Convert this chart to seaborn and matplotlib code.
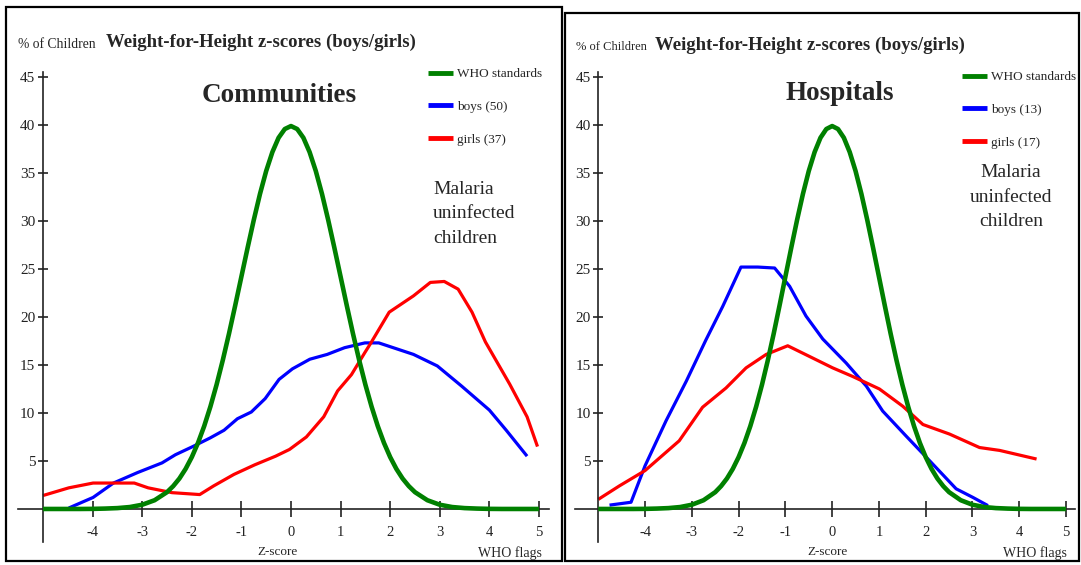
import numpy as np
import pandas as pd
import seaborn as sns
import matplotlib.pyplot as plt
from matplotlib.patches import Rectangle

# ============================================================
# DATA
# ============================================================
# WHO reference curve, % of children per z-score
who_z = [-5, -4.75, -4.5, -4.25, -4, -3.75, -3.5, -3.25, -3, -2.75,
         -2.5, -2.375, -2.25, -2.125, -2, -1.875, -1.75, -1.625, -1.5, -1.375,
         -1.25, -1.125, -1, -0.875, -0.75, -0.625, -0.5, -0.375, -0.25, -0.125,
         0, 0.125, 0.25, 0.375, 0.5, 0.625, 0.75, 0.875, 1, 1.125,
         1.25, 1.375, 1.5, 1.625, 1.75, 1.875, 2, 2.125, 2.25, 2.375,
         2.5, 2.75, 3, 3.25, 3.5, 3.75, 4, 4.25, 4.5, 4.75, 5]
who_pct = [0.0, 0.0, 0.0, 0.0, 0.01, 0.04, 0.09, 0.2, 0.44, 0.91,
           1.75, 2.38, 3.17, 4.17, 5.4, 6.88, 8.63, 10.66, 12.95, 15.5,
           18.26, 21.19, 24.2, 27.2, 30.11, 32.82, 35.21, 37.18, 38.67, 39.58,
           39.89, 39.58, 38.67, 37.18, 35.21, 32.82, 30.11, 27.2, 24.2, 21.19,
           18.26, 15.5, 12.95, 10.66, 8.63, 6.88, 5.4, 4.17, 3.17, 2.38,
           1.75, 0.91, 0.44, 0.2, 0.09, 0.04, 0.01, 0.0, 0.0, 0.0, 0.0]

# Communities
comm_boys_z = [-4.48, -3.99, -3.58, -3.09, -2.6, -2.33, -1.98, -1.63, -1.35, -1.08,
               -0.8, -0.52, -0.24, 0.03, 0.38, 0.73, 1.08, 1.49, 1.77, 2.47, 2.95,
               3.44, 4.0, 4.34, 4.76]
comm_boys_pct = [0.1, 1.2, 2.7, 3.8, 4.8, 5.65, 6.5, 7.4, 8.2, 9.4, 10.1, 11.5,
                 13.5, 14.6, 15.6, 16.1, 16.8, 17.3, 17.3, 16.1, 14.9, 12.8, 10.3,
                 8.2, 5.5]
comm_girls_z = [-5.0, -4.48, -3.99, -3.58, -3.16, -2.88, -2.4, -1.84, -1.56, -1.15,
                -0.73, -0.31, -0.03, 0.31, 0.66, 0.94, 1.22, 1.49, 1.6, 1.98, 2.47,
                2.81, 3.09, 3.37, 3.65, 3.92, 4.41, 4.76, 4.97]
comm_girls_pct = [1.4, 2.2, 2.7, 2.7, 2.7, 2.2, 1.7, 1.5, 2.4, 3.6, 4.6, 5.5, 6.2,
                  7.5, 9.6, 12.3, 14.0, 16.3, 17.2, 20.5, 22.2, 23.6, 23.7, 22.9,
                  20.5, 17.4, 13.0, 9.6, 6.5]

# Hospitals
hosp_boys_z = [-4.76, -4.3, -4.0, -3.55, -3.12, -2.7, -2.34, -1.95, -1.59, -1.23,
               -0.91, -0.56, -0.2, 0.3, 0.73, 1.08, 1.58, 2.01, 2.65, 3.01, 3.33]
hosp_boys_pct = [0.4, 0.7, 4.5, 9.2, 13.3, 17.6, 21.1, 25.2, 25.2, 25.1, 23.2,
                 20.1, 17.7, 15.2, 12.8, 10.2, 7.6, 5.4, 2.1, 1.2, 0.35]
hosp_girls_z = [-5.0, -4.55, -4.0, -3.27, -2.77, -2.27, -1.84, -1.41, -0.95, -0.49,
                0.01, 0.44, 1.01, 1.51, 1.94, 2.51, 3.15, 3.58, 4.37]
hosp_girls_pct = [1.0, 2.4, 4.0, 7.1, 10.6, 12.6, 14.7, 16.1, 17.0, 15.9, 14.7,
                  13.8, 12.5, 10.7, 8.8, 7.8, 6.4, 6.1, 5.2]

x_ticks = [-4, -3, -2, -1, 0, 1, 2, 3, 4, 5]
y_ticks = [5, 10, 15, 20, 25, 30, 35, 40, 45]

panels = [
    dict(name="Communities", n_boys=50, n_girls=37,
         boys=(comm_boys_z, comm_boys_pct), girls=(comm_girls_z, comm_girls_pct)),
    dict(name="Hospitals", n_boys=13, n_girls=17,
         boys=(hosp_boys_z, hosp_boys_pct), girls=(hosp_girls_z, hosp_girls_pct)),
]

# ============================================================
# STYLE / LAYOUT (pixel based)
# ============================================================
sns.set_style("white")
plt.rcParams['font.family'] = ['Liberation Serif', 'DejaVu Serif']
plt.rcParams['axes.unicode_minus'] = False

W, H = 1081, 565
fig = plt.figure(figsize=(W / 100, H / 100), dpi=100)


def fx(px):
    return px / W


def fy(py):
    return 1 - py / H


# per panel: axes box (x0, x1, top, bottom) plus text anchors, all in pixels
layout = [
    dict(box=(6, 7, 562, 561), ax=(18.2, 548.9, 72.2, 541.6),
         ylab=(18, 44, 9.8), title=(106, 42), name=(279, 96), leg=(428, 68),
         note=(433, 214, 'left'), zlab=(277, 552), flags=(542, 553)),
    dict(box=(565, 13, 1079, 561), ax=(574.9, 1075.4, 72.2, 541.6),
         ylab=(576, 47, 9.0), title=(655, 45), name=(840, 94), leg=(962, 71),
         note=(1011, 197, 'center'), zlab=(827, 552), flags=(1067, 553)),
]

GREEN, BLUE, RED = '#008000', '#0000ff', '#ff0000'

for p, L in zip(panels, layout):
    x0, x1, yt, yb = L['ax']
    ax = fig.add_axes([fx(x0), fy(yb), fx(x1 - x0), (yb - yt) / H])
    ax.patch.set_alpha(0)

    bz, bp = p['boys']
    gz, gp = p['girls']
    sns.lineplot(x=bz, y=bp, ax=ax, color=BLUE, lw=2.3, sort=False,
                 estimator=None, label=f"boys ({p['n_boys']})", legend=False)
    sns.lineplot(x=gz, y=gp, ax=ax, color=RED, lw=2.3, sort=False,
                 estimator=None, label=f"girls ({p['n_girls']})", legend=False)
    sns.lineplot(x=who_z, y=who_pct, ax=ax, color=GREEN, lw=3.3, sort=False,
                 estimator=None, label="WHO standards", legend=False, zorder=5)
    for ln in ax.get_lines():
        ln.set_solid_capstyle('butt')
        ln.set_solid_joinstyle('round')

    ax.set_xlim(-5.5, 5.2)
    ax.set_ylim(-3.4, 45.5)
    ax.set_xticks(x_ticks)
    ax.set_yticks(y_ticks)
    ax.set_xlabel("")
    ax.set_ylabel("")
    for s in ['top', 'right']:
        ax.spines[s].set_visible(False)
    ax.spines['left'].set_position(('data', -5))
    ax.spines['bottom'].set_position(('data', 0))
    for s in ['left', 'bottom']:
        ax.spines[s].set_linewidth(1.2)
        ax.spines[s].set_color('#222222')
    ax.tick_params(axis='x', bottom=True, direction='inout', length=12, width=1.2,
                   pad=6, labelsize=10.5, colors='#222222')
    ax.tick_params(axis='y', left=True, direction='inout', length=7, width=1.2,
                   pad=2, labelsize=11, colors='#222222')

    # legend in the order of the reference
    lines = ax.get_lines()
    handles = [lines[2], lines[0], lines[1]]
    lx, ly = L['leg']
    leg = ax.legend(handles, [h.get_label() for h in handles], loc='upper left',
                    bbox_to_anchor=(fx(lx), fy(ly)), bbox_transform=fig.transFigure,
                    frameon=False, fontsize=9.5, handlelength=1.9,
                    handletextpad=0.3, labelspacing=1.55, borderpad=0,
                    borderaxespad=0)
    for h in leg.legend_handles:
        h.set_linewidth(3.5)

    # texts
    ylx, yly, ylsize = L['ylab']
    fig.text(fx(ylx), fy(yly), "% of Children", fontsize=ylsize,
             va='center', ha='left')
    fig.text(fx(L['title'][0]), fy(L['title'][1]),
             "Weight-for-Height z-scores (boys/girls)", fontsize=13.5,
             fontweight='bold', va='center', ha='left')
    fig.text(fx(L['name'][0]), fy(L['name'][1]), p['name'], fontsize=19.5,
             fontweight='bold', va='center', ha='center')
    nx, ny, nha = L['note']
    fig.text(fx(nx), fy(ny), "Malaria\nuninfected\nchildren", fontsize=14,
             va='center', ha=nha, multialignment=nha, linespacing=1.55)
    fig.text(fx(L['zlab'][0]), fy(L['zlab'][1]), "Z-score", fontsize=9.5,
             va='center', ha='center')
    fig.text(fx(L['flags'][0]), fy(L['flags'][1]), "WHO flags", fontsize=10,
             va='center', ha='right')

    # panel frame
    bx0, by0, bx1, by1 = L['box']
    fig.add_artist(Rectangle((fx(bx0), fy(by1)), fx(bx1 - bx0), (by1 - by0) / H,
                             transform=fig.transFigure, fill=False, lw=1.6,
                             ec='black'))

fig.savefig("out.png", dpi=100)
